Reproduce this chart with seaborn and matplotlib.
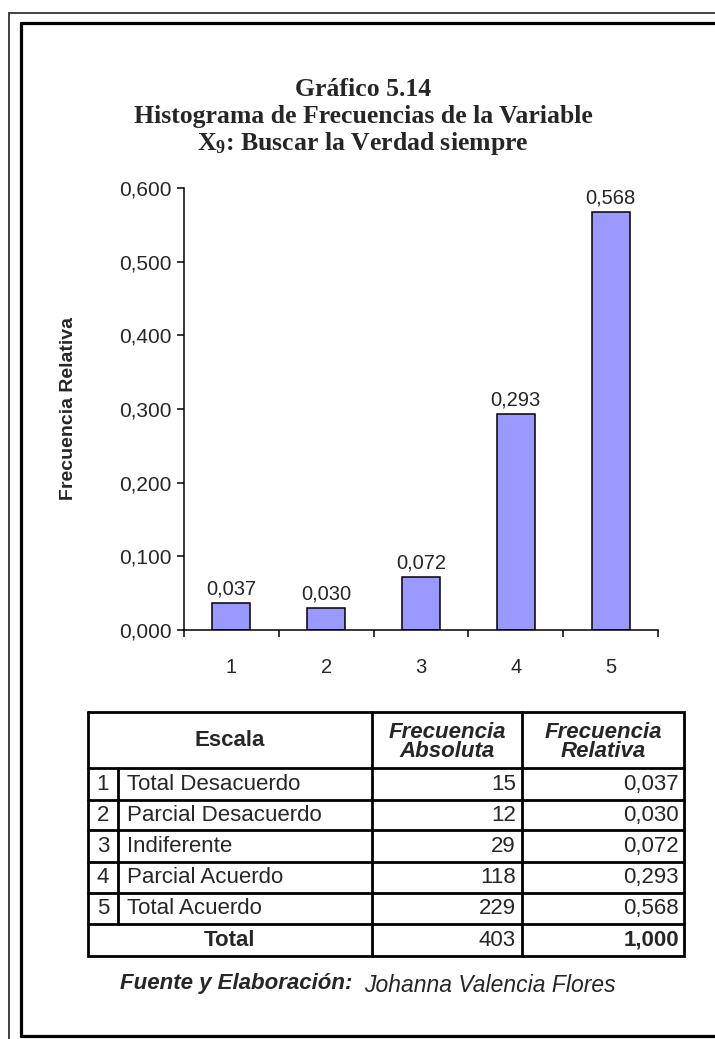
import matplotlib
matplotlib.use("Agg")
import matplotlib.pyplot as plt
from matplotlib.lines import Line2D
from matplotlib.ticker import FuncFormatter, FixedLocator
import seaborn as sns
import pandas as pd

# ---------------- data ----------------
categories = ["1", "2", "3", "4", "5"]
rel_freq = [0.037, 0.030, 0.072, 0.293, 0.568]
abs_freq = [15, 12, 29, 118, 229]
scale_names = ["Total Desacuerdo", "Parcial Desacuerdo", "Indiferente",
               "Parcial Acuerdo", "Total Acuerdo"]
total_abs = 403
total_rel = 1.000
y_ticks = [0.0, 0.1, 0.2, 0.3, 0.4, 0.5, 0.6]

title_lines = ["Gráfico 5.14",
               "Histograma de Frecuencias de la Variable",
               r"X$_{\mathbf{9}}$: Buscar la Verdad siempre"]
y_label = "Frecuencia Relativa"
source_bold = "Fuente y Elaboración:"
source_text = "Johanna Valencia Flores"


def comma(v, dec=3):
    return f"{v:.{dec}f}".replace(".", ",")


# ---------------- style ----------------
sns.set_theme(style="white")
plt.rcParams['font.family'] = ['Liberation Sans', 'DejaVu Sans']
plt.rcParams['mathtext.fontset'] = 'custom'
plt.rcParams['mathtext.rm'] = 'Liberation Serif:bold'
plt.rcParams['mathtext.bf'] = 'Liberation Serif:bold'
plt.rcParams['mathtext.it'] = 'Liberation Serif:bold'

W, H = 715, 1039
fig = plt.figure(figsize=(W / 100, H / 100), dpi=100)
fig.patch.set_facecolor("white")


def fx(px):
    return px / W


def fy(py):
    return 1 - py / H


# ---------------- frame ----------------
fig.add_artist(Line2D([fx(9), fx(9)], [fy(13), 0], lw=1.3, color="#333333"))
fig.add_artist(Line2D([fx(9), 1], [fy(13), fy(13)], lw=1.3, color="#333333"))
fig.add_artist(Line2D([fx(21), fx(21)], [fy(23), fy(1036)], lw=2.3, color="black"))
fig.add_artist(Line2D([fx(21), 1], [fy(23), fy(23)], lw=2.3, color="black"))
fig.add_artist(Line2D([fx(21), 1], [fy(1036), fy(1036)], lw=2.3, color="black"))

# ---------------- title ----------------
for txt, yy in zip(title_lines, [90, 117, 144]):
    fig.text(fx(363), fy(yy), txt, ha="center", va="center",
             family="Liberation Serif", fontweight="bold", fontsize=18.5)

# ---------------- bar chart ----------------
ax = fig.add_axes([fx(184), fy(630), fx(658) - fx(184), fy(188) - fy(630)])
df = pd.DataFrame({"Escala": categories, "Frecuencia Relativa": rel_freq})
sns.barplot(data=df, x="Escala", y="Frecuencia Relativa", color="#9999FF",
            saturation=1, edgecolor="black", linewidth=1.1, width=0.4, ax=ax)
ax.set_xlim(-0.5, len(categories) - 0.5)
ax.set_ylim(y_ticks[0], y_ticks[-1])
ax.set_yticks(y_ticks)
ax.yaxis.set_major_formatter(FuncFormatter(lambda v, p: comma(v)))
ax.xaxis.set_minor_locator(FixedLocator([i - 0.5 for i in range(len(categories) + 1)]))
ax.tick_params(axis="x", which="major", length=0, pad=20, labelsize=14.5)
ax.tick_params(axis="x", which="minor", length=5, width=1.1, direction="out",
               color="black", bottom=True)
ax.tick_params(axis="y", length=5, width=1.1, direction="out", color="black",
               left=True, labelsize=15, pad=4)
ax.set_xlabel("")
ax.set_ylabel(y_label, fontsize=14, fontweight="bold")
ax.yaxis.set_label_coords(-0.226, 0.5)
for s in ["top", "right"]:
    ax.spines[s].set_visible(False)
for s in ["left", "bottom"]:
    ax.spines[s].set_color("black")
    ax.spines[s].set_linewidth(1.1)
ax.bar_label(ax.containers[0], labels=[comma(v) for v in rel_freq],
             padding=3, fontsize=14.5)

# ---------------- table ----------------
L, R, T, B = 88, 684, 712, 956
c1, c2, c3 = 118, 372, 522
hdr = 768
row_edges = [hdr, 800, 830, 862, 893, 924, B]
tb = fig.add_axes([fx(L), fy(B), fx(R) - fx(L), fy(T) - fy(B)])
tb.set_xlim(L, R)
tb.set_ylim(B, T)
tb.axis("off")
lw = 2.0
tb.plot([L, R, R, L, L], [T, T, B, B, T], color="black", lw=lw, clip_on=False,
        solid_joinstyle="miter")
for yv in row_edges[:-1]:
    tb.plot([L, R], [yv, yv], color="black", lw=lw, clip_on=False)
tb.plot([c1, c1], [hdr, row_edges[-2]], color="black", lw=lw, clip_on=False)
tb.plot([c2, c2], [T, B], color="black", lw=lw, clip_on=False)
tb.plot([c3, c3], [T, B], color="black", lw=lw, clip_on=False)

fs = 16
tb.text((L + c2) / 2, (T + hdr) / 2, "Escala", ha="center", va="center",
        fontsize=fs, fontweight="bold")
tb.text((c2 + c3) / 2, (T + hdr) / 2 + 2, "Frecuencia\nAbsoluta", ha="center",
        va="center", fontsize=fs, fontweight="bold", fontstyle="italic",
        linespacing=0.9)
tb.text((c3 + R) / 2, (T + hdr) / 2 + 2, "Frecuencia\nRelativa", ha="center",
        va="center", fontsize=fs, fontweight="bold", fontstyle="italic",
        linespacing=0.9)
for i, (cat, name, a, r) in enumerate(zip(categories, scale_names, abs_freq, rel_freq)):
    yc = (row_edges[i] + row_edges[i + 1]) / 2
    tb.text((L + c1) / 2, yc, cat, ha="center", va="center", fontsize=fs)
    tb.text(c1 + 9, yc, name, ha="left", va="center", fontsize=fs)
    tb.text(c3 - 6, yc, str(a), ha="right", va="center", fontsize=fs)
    tb.text(R - 5, yc, comma(r), ha="right", va="center", fontsize=fs)
yc = (row_edges[-2] + row_edges[-1]) / 2
tb.text((L + c2) / 2, yc, "Total", ha="center", va="center", fontsize=fs,
        fontweight="bold")
tb.text(c3 - 6, yc, str(total_abs), ha="right", va="center", fontsize=fs)
tb.text(R - 5, yc, comma(total_rel), ha="right", va="center", fontsize=fs,
        fontweight="bold")

# ---------------- footer ----------------
fig.text(fx(120), fy(984), source_bold, ha="left", va="center", fontsize=16,
         fontweight="bold", fontstyle="italic")
fig.text(fx(364), fy(986), source_text, ha="left", va="center", fontsize=16.5,
         fontstyle="italic")

fig.savefig("out.png", dpi=100)
